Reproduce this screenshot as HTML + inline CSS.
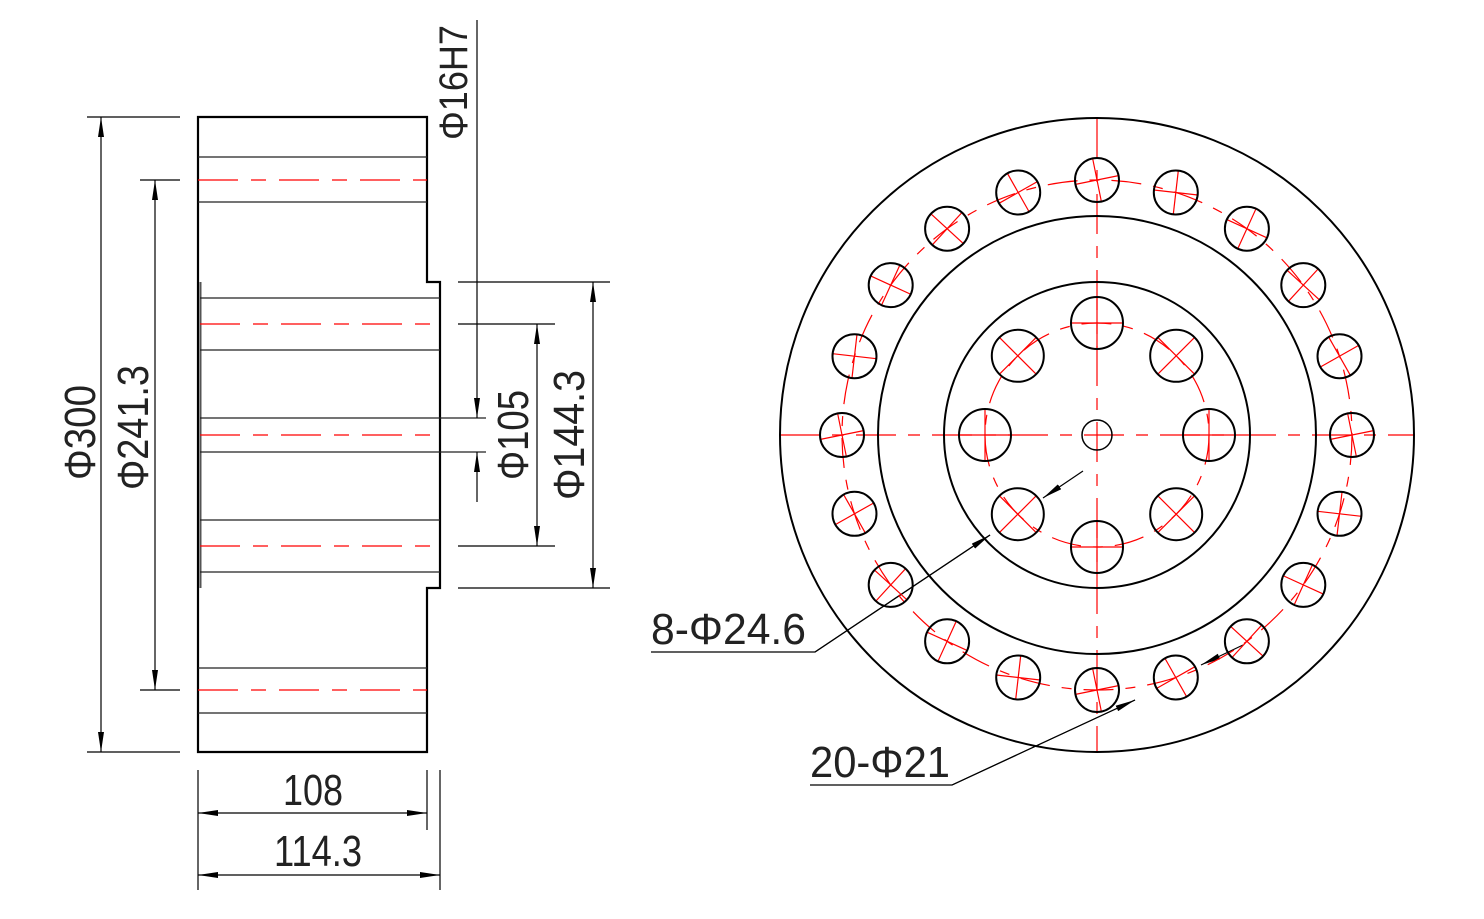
<!DOCTYPE html>
<html><head><meta charset="utf-8"><style>
html,body{margin:0;padding:0;background:#fff;}
svg{display:block;}
text{font-family:"Liberation Sans",sans-serif;fill:#222;}
</style></head><body>
<svg id="s" width="1484" height="919" viewBox="0 0 1484 919" xmlns="http://www.w3.org/2000/svg">
<defs>
<marker id="a" viewBox="0 0 20 6" refX="20" refY="3" markerWidth="20" markerHeight="6" markerUnits="userSpaceOnUse" orient="auto-start-reverse"><path d="M0,0 L20,3 L0,6 Z" fill="#000"/></marker>
</defs>
<g fill="none" stroke="#000">
<!-- left view outline -->
<path d="M198,117 H427 V282 H440 V588 H427 V752 H198 Z" stroke-width="2.2"/>
<line x1="200.5" y1="282" x2="200.5" y2="588" stroke-width="2" stroke="#555"/>
<g stroke-width="1.3" stroke="#222">
<line x1="198" y1="157" x2="427" y2="157"/><line x1="198" y1="202" x2="427" y2="202"/>
<line x1="200" y1="298" x2="440" y2="298"/><line x1="200" y1="350" x2="440" y2="350"/>
<line x1="200" y1="418" x2="486" y2="418"/><line x1="200" y1="452" x2="486" y2="452"/>
<line x1="200" y1="520" x2="440" y2="520"/><line x1="200" y1="572" x2="440" y2="572"/>
<line x1="198" y1="668" x2="427" y2="668"/><line x1="198" y1="713" x2="427" y2="713"/>
</g>
<g stroke="#f00" stroke-width="1.3" stroke-dasharray="40,13,15,13">
<line x1="198" y1="180" x2="427" y2="180"/>
<line x1="200" y1="324" x2="440" y2="324"/>
<line x1="200" y1="435" x2="440" y2="435"/>
<line x1="200" y1="546" x2="440" y2="546"/>
<line x1="198" y1="690" x2="427" y2="690"/>
</g>
<!-- dims -->
<g stroke-width="1.2">
<line x1="87" y1="117" x2="180" y2="117"/><line x1="87" y1="752" x2="180" y2="752"/>
<line x1="101" y1="117" x2="101" y2="752" marker-start="url(#a)" marker-end="url(#a)"/>
<line x1="140" y1="180" x2="180" y2="180"/><line x1="140" y1="690" x2="180" y2="690"/>
<line x1="155" y1="180" x2="155" y2="690" marker-start="url(#a)" marker-end="url(#a)"/>
<line x1="477" y1="20" x2="477" y2="418" marker-end="url(#a)"/>
<line x1="477" y1="502" x2="477" y2="452" marker-end="url(#a)"/>
<line x1="458" y1="324" x2="555" y2="324"/><line x1="458" y1="546" x2="555" y2="546"/>
<line x1="537" y1="324" x2="537" y2="546" marker-start="url(#a)" marker-end="url(#a)"/>
<line x1="458" y1="282" x2="610" y2="282"/><line x1="458" y1="588" x2="610" y2="588"/>
<line x1="593" y1="282" x2="593" y2="588" marker-start="url(#a)" marker-end="url(#a)"/>
<line x1="198" y1="770" x2="198" y2="890"/><line x1="427" y1="770" x2="427" y2="830"/><line x1="440" y1="770" x2="440" y2="890"/>
<line x1="198" y1="813" x2="427" y2="813" marker-start="url(#a)" marker-end="url(#a)"/>
<line x1="198" y1="875" x2="440" y2="875" marker-start="url(#a)" marker-end="url(#a)"/>
<!-- leaders -->
<polyline points="651,652 815,652 990,535"/>
<line x1="815" y1="652" x2="990" y2="535" marker-end="url(#a)"/>
<line x1="1083" y1="471" x2="1043" y2="498" marker-end="url(#a)"/>
<polyline points="810,785 952,785 1135,700"/>
<line x1="952" y1="785" x2="1135" y2="700" marker-end="url(#a)"/>
<line x1="1243" y1="645" x2="1201" y2="665" marker-end="url(#a)"/>
</g>
<!-- right view -->
<g stroke="#f00" stroke-width="1.2" stroke-dasharray="40,12,12,12">
<line x1="780" y1="435" x2="1415" y2="435"/>
<line x1="1097" y1="118" x2="1097" y2="752"/>
<circle cx="1097" cy="435" r="255" stroke-dasharray="30,12,10,12"/>
<circle cx="1097" cy="435" r="112" stroke-dasharray="30,12,10,12"/>
</g>
<g stroke-width="2">
<circle cx="1097" cy="435" r="317"/>
<circle cx="1097" cy="435" r="219"/>
<circle cx="1097" cy="435" r="153"/>
<circle cx="1097" cy="435" r="15" stroke-width="1.5"/>
</g>
<g id="holes"></g>
</g>
<line x1="1087" y1="435" x2="1107" y2="435" stroke="#f00" stroke-width="1"/>
<line x1="1097" y1="425" x2="1097" y2="445" stroke="#f00" stroke-width="1"/>
<!-- texts -->
<text x="313" y="805" font-size="44" text-anchor="middle" textLength="60" lengthAdjust="spacingAndGlyphs">108</text>
<text x="318" y="866" font-size="44" text-anchor="middle" textLength="88" lengthAdjust="spacingAndGlyphs">114.3</text>
<text x="651" y="644" font-size="44" textLength="155" lengthAdjust="spacingAndGlyphs">8-Φ24.6</text>
<text x="810" y="777" font-size="44" textLength="140" lengthAdjust="spacingAndGlyphs">20-Φ21</text>
<text transform="translate(95,480) rotate(-90)" font-size="44" textLength="95" lengthAdjust="spacingAndGlyphs">Φ300</text>
<text transform="translate(148,490) rotate(-90)" font-size="44" textLength="125" lengthAdjust="spacingAndGlyphs">Φ241.3</text>
<text transform="translate(467,140) rotate(-90)" font-size="40" textLength="115" lengthAdjust="spacingAndGlyphs">Φ16H7</text>
<text transform="translate(528,480) rotate(-90)" font-size="44" textLength="90" lengthAdjust="spacingAndGlyphs">Φ105</text>
<text transform="translate(584,500) rotate(-90)" font-size="44" textLength="130" lengthAdjust="spacingAndGlyphs">Φ144.3</text>
</svg>
<script>
(function(){
var g=document.getElementById('holes'),NS='http://www.w3.org/2000/svg',cx=1097,cy=435,h='';
function add(R,n,r,off,tilt){
 for(var i=0;i<n;i++){
  var a=(off+i*360/n)*Math.PI/180,x=cx+R*Math.cos(a),y=cy-R*Math.sin(a);
  var b=a+tilt,c=Math.cos(b),s=Math.sin(b);
  h+='<line x1="'+(x-r*c)+'" y1="'+(y+r*s)+'" x2="'+(x+r*c)+'" y2="'+(y-r*s)+'" stroke="#f00" stroke-width="1.2"/>';
  h+='<line x1="'+(x-r*s)+'" y1="'+(y-r*c)+'" x2="'+(x+r*s)+'" y2="'+(y+r*c)+'" stroke="#f00" stroke-width="1.2"/>';
  h+='<circle cx="'+x+'" cy="'+y+'" r="'+r+'" stroke="#000" stroke-width="2" fill="none"/>';
 }
}
add(255,20,22,90,0.2);
add(112,8,26,0,0);
g.innerHTML=h;
})();
</script>
</body></html>
